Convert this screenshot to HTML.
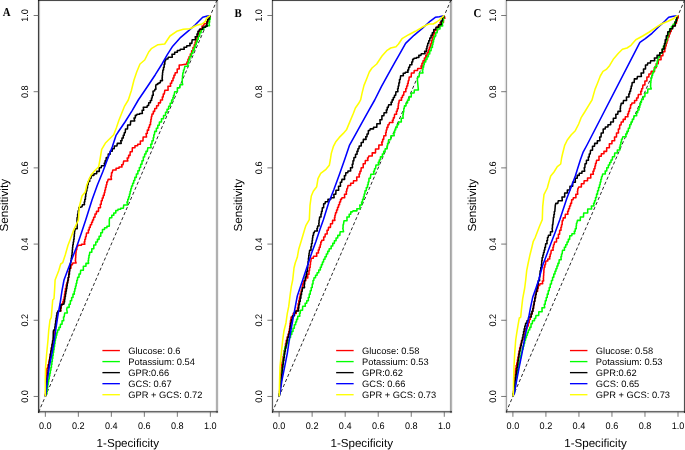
<!DOCTYPE html><html><head><meta charset="utf-8"><style>html,body{margin:0;padding:0;background:#fff;}svg{display:block;}text{font-family:"Liberation Sans",sans-serif;fill:#000;text-rendering:geometricPrecision;}</style></head><body>
<svg width="685" height="450" viewBox="0 0 685 450">
<rect width="685" height="450" fill="#fff"/>
<rect x="38" y="0" width="180" height="1" fill="#4a4a4a" style="mix-blend-mode:multiply"/>
<rect x="38" y="1" width="180" height="1" fill="#f4f4f4" style="mix-blend-mode:multiply"/>
<rect x="38" y="410" width="180" height="1" fill="#f2f2f2" style="mix-blend-mode:multiply"/>
<rect x="38" y="411" width="180" height="1" fill="#686868" style="mix-blend-mode:multiply"/>
<rect x="38" y="412" width="180" height="1" fill="#b0b0b0" style="mix-blend-mode:multiply"/>
<rect x="38" y="413" width="180" height="1" fill="#f4f4f4" style="mix-blend-mode:multiply"/>
<rect x="37" y="0" width="1" height="413" fill="#f0f0f0" style="mix-blend-mode:multiply"/>
<rect x="38" y="0" width="1" height="413" fill="#404040" style="mix-blend-mode:multiply"/>
<rect x="39" y="0" width="1" height="413" fill="#b8b8b8" style="mix-blend-mode:multiply"/>
<rect x="40" y="0" width="1" height="413" fill="#f8f8f8" style="mix-blend-mode:multiply"/>
<rect x="215" y="0" width="1" height="413" fill="#f2f2f2" style="mix-blend-mode:multiply"/>
<rect x="216" y="0" width="1" height="413" fill="#b0b0b0" style="mix-blend-mode:multiply"/>
<rect x="217" y="0" width="1" height="413" fill="#b0b0b0" style="mix-blend-mode:multiply"/>
<rect x="218" y="0" width="1" height="413" fill="#f2f2f2" style="mix-blend-mode:multiply"/>
<line x1="38.75" y1="411.7" x2="216.95" y2="0.26" stroke="#2a2a2a" stroke-width="1" stroke-dasharray="3.2 2.31" stroke-dashoffset="0.6"/>
<polyline points="45.5,396 45.53,393.6 45.67,393.6 45.67,390.4 45.81,390.4 45.81,387.2 45.95,387.2 45.95,384 46.09,384 46.09,380.8 46.23,380.8 46.7,370.7 46.95,368.19 47.95,368.19 47.95,364.84 48.95,364.84 48.83,361.99 49.33,361.99 49.33,359.32 49.83,359.32 49.83,356.64 50.33,356.64 50.33,353.97 50.83,353.97 50.83,351.23 51.37,351.23 51.37,348.46 51.9,348.46 51.9,345.69 52.43,345.69 52.42,343 52.92,343 52.92,340.33 53.42,340.33 53.42,337.67 53.92,337.67 53.92,335 54.38,335 54.38,332.33 54.85,332.33 54.85,329.67 55.32,329.67 55.31,326.75 55.74,326.75 55.74,323.75 56.18,323.75 56.18,320.75 56.61,320.75 56.61,318 57.04,318 57.04,315.33 57.48,315.33 57.48,312.67 57.91,312.67 58.42,310.88 60.92,310.88 60.49,308.25 61.24,308.25 61.24,305.25 61.99,305.25 62.02,303.6 62.93,303.6 62.86,301.57 63.51,301.57 63.51,299.27 64.16,299.27 64.11,296.7 64.54,296.7 64.54,294.03 64.97,294.03 64.97,291.37 65.41,291.37 65.49,288.19 66.24,288.19 66.24,284.84 66.99,284.84 66.99,282.31 67.74,282.31 67.74,280.06 68.49,280.06 68.38,277.3 68.72,277.3 68.72,274.37 69.05,274.37 69.05,271.43 69.38,271.43 69.64,268.19 70.99,268.19 70.99,264.84 72.34,264.84 72.83,263.02 76.12,263.02 75.34,260.69 75.52,260.69 75.52,258.02 75.69,258.02 75.69,255.34 75.87,255.34 75.87,252.67 76.04,252.67 76.16,249.75 76.81,249.75 76.81,246.75 77.46,246.75 78.14,245.25 81.49,245.25 81.49,244.25 84.84,244.25 84.17,242 84.83,242 84.83,239.33 85.5,239.33 85.5,236.67 86.17,236.67 86.5,233 88.5,233 88.25,230.01 89.25,230.01 89.25,227.36 90.25,227.36 90.33,224.68 91.62,224.68 91.55,222.31 92.55,222.31 92.55,220.06 93.55,220.06 93.64,217.18 94.99,217.18 94.99,214.08 96.34,214.08 96.5,211.35 98.5,211.35 98.5,207.7 100.5,207.7 100.25,204.19 101.25,204.19 101.25,200.84 102.25,200.84 102.25,198.01 103.25,198.01 103.25,195.36 104.25,195.36 104.17,192.7 104.83,192.7 104.83,190.03 105.5,190.03 105.5,187.37 106.17,187.37 106.16,184.68 106.81,184.68 106.81,181.98 107.46,181.98 108.15,179.35 111.55,179.35 110.86,176.19 111.51,176.19 111.51,172.84 112.16,172.84 112.83,169.98 116.12,169.98 116.05,168.32 119.05,168.32 119.05,167.02 122.05,167.02 121.65,164.68 123.05,164.68 123.72,161 127.82,161 127.16,158.01 128.61,158.01 128.61,155.36 130.06,155.36 130.2,151.7 132.2,151.7 132.35,147.7 134.95,147.7 134.98,145.69 137.68,145.69 137.68,144.34 140.38,144.34 140.35,141 142.95,141 143.15,137 146.55,137 146.02,133.49 147.32,133.49 147.32,130.14 148.62,130.14 148.55,127.31 149.55,127.31 149.55,124.66 150.55,124.66 150.42,122 150.88,122 150.88,119.33 151.35,119.33 151.35,116.67 151.82,116.67 152.02,114.01 153.32,114.01 153.32,111.36 154.62,111.36 154.76,108.56 156.61,108.56 156.61,105.71 158.46,105.71 158.5,102.86 160.5,102.86 160.5,100.01 162.5,100.01 162.25,97.05 163.25,97.05 163.25,94.05 164.25,94.05 164.82,90.3 168.12,90.3 167.98,86.3 170.68,86.3 170.34,83.31 171.69,83.31 171.69,80.66 173.04,80.66 172.95,78.01 173.95,78.01 173.95,75.36 174.95,75.36 175.2,72.67 177.2,72.67 177.2,69 179.2,69 179.2,65 181.2,65 186.7,64 186.95,62.01 187.95,62.01 187.95,59.36 188.95,59.36 189.02,56.67 190.32,56.67 190.32,53.97 191.62,53.97 191.64,50.83 192.99,50.83 192.99,47.53 194.34,47.53 194.22,44.7 195.12,44.7 195.12,42.03 196.02,42.03 196.02,39.37 196.92,39.37 196.97,36.7 198.07,36.7 198.07,34.03 199.18,34.03 199.18,31.37 200.28,31.37 200.41,28.68 202.06,28.68 202.06,25.98 203.71,25.98 203.98,23.8 206.68,23.8 206.68,21.8 209.38,21.8 209.02,18.3 210.32,18.3 210,15.7" fill="none" stroke="#ff0000" stroke-width="1.55" stroke-linejoin="round" stroke-linecap="round"/>
<polyline points="45.5,396 45.8,393.98 47,393.98 46.81,390.97 47.24,390.97 47.24,387.88 47.68,387.88 47.68,384.77 48.11,384.77 48.14,381.84 48.69,381.84 48.69,378.95 49.24,378.95 49.24,376.07 49.79,376.07 49.79,373.19 50.34,373.19 50.34,370.3 50.89,370.3 50.89,367.42 51.44,367.42 51.41,364.48 51.86,364.48 51.86,361.51 52.3,361.51 52.3,358.54 52.74,358.54 52.74,355.57 53.19,355.57 53.19,352.61 53.63,352.61 53.63,349.64 54.08,349.64 54.08,346.68 54.52,346.68 54.52,343.71 54.97,343.71 54.97,340.74 55.41,340.74 55.47,338 56.13,338 56.13,335.33 56.8,335.33 56.8,332.67 57.47,332.67 57.64,330.01 58.99,330.01 58.99,327.36 60.34,327.36 60.41,324.19 62.06,324.19 62.06,320.84 63.71,320.84 63.47,317 64.17,317 64.67,313 67.38,313 66.7,309.3 67.2,307.35 69.2,307.35 69.03,304.19 70.33,304.19 70.33,300.84 71.62,300.84 71.64,297.49 72.99,297.49 72.99,294.14 74.34,294.14 74.17,291.3 74.83,291.3 74.83,288.63 75.5,288.63 75.5,285.97 76.17,285.97 76.16,283.16 76.81,283.16 76.81,280.31 77.46,280.31 77.64,277.24 78.99,277.24 78.99,274.09 80.34,274.09 80.67,270.3 83.38,270.3 83.35,266.3 85.95,266.3 85.97,263.35 88.67,263.35 88.11,260.7 88.54,260.7 88.54,258.03 88.97,258.03 88.97,255.37 89.41,255.37 89.8,252.19 91.8,252.19 91.8,248.84 93.8,248.84 93.8,245 95.8,245 95.72,242.01 97.42,242.01 97.42,239.36 99.12,239.36 99.11,236.19 100.76,236.19 100.76,232.84 102.41,232.84 102.5,229.52 104.5,229.52 104.59,227.69 106.94,227.69 106.94,226.34 109.29,226.34 109.3,219.6 109.8,217.76 111.8,217.76 111.8,215.31 113.8,215.31 113.8,212.94 115.8,212.94 115.8,210.59 117.8,210.59 117.97,209.25 120.67,209.25 120.67,208.25 123.38,208.25 123.7,205 127.7,205 126.92,202 127.78,202 127.78,199.33 128.65,199.33 128.65,196.67 129.52,196.67 129.47,194 130.13,194 130.13,191.33 130.8,191.33 130.8,188.67 131.47,188.67 131.57,185.95 132.63,185.95 132.63,183.22 133.7,183.22 133.7,180.48 134.77,180.48 134.88,177.35 136.38,177.35 136.38,174.08 137.88,174.08 137.88,170.82 139.38,170.82 139.33,167.5 140.67,167.5 140.67,164.17 142,164.17 142,160.83 143.33,160.83 143.32,157 144.62,157 144.64,154.01 145.99,154.01 145.99,151.36 147.34,151.36 147.82,147.7 151.12,147.7 150.64,144.19 151.99,144.19 151.99,140.84 153.34,140.84 153.16,137.75 153.81,137.75 153.81,134.75 154.46,134.75 154.73,131.38 156.43,131.38 156.36,128.25 157.81,128.25 157.81,125.25 159.26,125.25 159.42,122.03 161.48,122.03 161.48,118.72 163.55,118.72 163.55,115.42 165.62,115.42 165.49,112.32 167.06,112.32 167.06,109.29 168.63,109.29 168.63,106.26 170.19,106.26 170.16,103.18 171.61,103.18 171.61,100.08 173.06,100.08 172.86,97.58 173.51,97.58 173.51,95.28 174.16,95.28 174.68,91.7 177.38,91.7 177.35,87.7 179.95,87.7 179.98,84.67 182.68,84.67 182.06,81.68 182.29,81.68 182.29,78.58 182.53,78.58 182.53,75.48 182.76,75.48 182.86,72.67 183.51,72.67 183.51,69.97 184.16,69.97 184.82,66.3 188.12,66.3 187.58,62.94 188.68,62.94 188.68,59.79 189.78,59.79 189.88,56.58 191.38,56.58 191.38,53.34 192.88,53.34 192.88,50.11 194.38,50.11 194.25,47.31 195.25,47.31 195.25,44.66 196.25,44.66 196.25,42.01 197.25,42.01 197.25,39.36 198.25,39.36 198.34,36.19 199.69,36.19 199.69,32.84 201.04,32.84 201.35,29.52 203.95,29.52 203.8,27.2 205.8,27.2 206.15,25.65 209.55,25.65 208.86,22.82 209.51,22.82 209.51,19.52 210.16,19.52 210,15.7" fill="none" stroke="#00ff00" stroke-width="1.55" stroke-linejoin="round" stroke-linecap="round"/>
<polyline points="45.5,396 45.58,393.66 45.88,393.66 45.88,390.55 46.18,390.55 46.18,387.43 46.48,387.43 46.48,384.31 46.77,384.31 46.77,381.2 47.08,381.2 47.08,378.08 47.38,378.08 47.39,375.31 47.74,375.31 47.74,372.66 48.09,372.66 48.09,370.01 48.44,370.01 48.44,367.36 48.79,367.36 48.83,364.19 49.33,364.19 49.33,360.84 49.83,360.84 49.83,357.49 50.33,357.49 50.33,354.14 50.83,354.14 50.84,350.81 51.42,350.81 51.42,347.48 51.99,347.48 51.99,344.16 52.57,344.16 52.57,340.83 53.14,340.83 53.3,332 53.65,329.98 55.05,329.98 54.81,326.97 55.24,326.97 55.24,323.88 55.68,323.88 55.68,320.77 56.11,320.77 56.11,318 56.54,318 56.54,315.33 56.98,315.33 56.98,312.67 57.41,312.67 57.97,311.02 60.67,311.02 60.16,308.19 60.81,308.19 60.81,304.84 61.46,304.84 64,304 64.11,302 64.54,302 64.54,299.33 64.97,299.33 64.97,296.67 65.41,296.67 65.42,294 65.88,294 65.88,291.33 66.35,291.33 66.35,288.67 66.82,288.67 66.81,286 67.24,286 67.24,283.33 67.67,283.33 67.67,280.67 68.11,280.67 68.16,277.49 68.81,277.49 68.81,274.14 69.46,274.14 69.39,271.31 69.74,271.31 69.74,268.66 70.09,268.66 70.09,266.01 70.44,266.01 70.44,263.36 70.79,263.36 70.81,260.7 71.24,260.7 71.24,258.03 71.67,258.03 71.67,255.37 72.11,255.37 72.06,252.7 72.29,252.7 72.29,250.03 72.53,250.03 72.53,247.37 72.76,247.37 72.81,244.7 73.24,244.7 73.24,242.03 73.67,242.03 73.67,239.37 74.11,239.37 74.06,236.7 74.29,236.7 74.29,234.03 74.53,234.03 74.53,231.37 74.76,231.37 75.2,228.68 77.2,228.68 77,220 77.12,217.49 77.62,217.49 77.62,214.14 78.12,214.14 78.16,210.82 78.81,210.82 78.81,207.52 79.46,207.52 82,206.7 82.5,204.68 84.5,204.68 84.16,202.01 84.81,202.01 84.81,199.36 85.46,199.36 85.39,196.68 85.74,196.68 85.74,193.98 86.09,193.98 86.17,190.98 86.83,190.98 86.83,187.88 87.5,187.88 87.5,184.78 88.17,184.78 88.34,181.49 89.69,181.49 89.69,178.14 91.04,178.14 91.35,175.35 93.95,175.35 93.97,173.65 96.67,173.65 96.67,171.35 99.38,171.35 99.2,167.7 101.2,167.7 101.53,165.65 104.83,165.65 104.22,163.31 105.12,163.31 105.12,160.66 106.02,160.66 106.29,157.49 108.24,157.49 108.24,154.14 110.19,154.14 110.2,151.31 112.2,151.31 112.2,148.66 114.2,148.66 114.35,145.98 116.95,145.98 117.3,143.35 121.3,143.35 120.64,140.68 121.99,140.68 121.99,137.98 123.34,137.98 123.25,135.31 124.25,135.31 124.25,132.66 125.25,132.66 125.5,129 127.5,129 127.67,125 130.38,125 130.7,121 134.7,121 134.02,118.01 135.32,118.01 135.32,115.36 136.62,115.36 136.98,114.17 139.68,114.17 139.68,113.47 142.38,113.47 142.1,110.3 143.7,110.3 143.3,107.3 147,107.3 147.32,105.58 148.62,105.58 148.73,102.75 150.43,102.75 150.32,100.5 151.62,100.5 151.48,97.97 152.18,97.97 152.25,95.35 153.25,95.35 153,91.3 154.7,90.7 154.95,89.2 155.95,89.2 155.7,86.3 156.1,84.58 157.7,84.58 157.65,83.47 159.05,83.47 159.02,82.7 160.32,82.7 160.5,80.62 162.5,80.62 162.06,78 162.29,78 162.29,75.33 162.53,75.33 162.53,72.67 162.76,72.67 162.86,70.01 163.51,70.01 163.51,67.36 164.16,67.36 164.16,64.19 164.81,64.19 164.81,60.84 165.46,60.84 165.8,59.03 167.8,59.03 168.3,57.2 172.3,57.2 171.98,54.15 174.68,54.15 174.68,52.33 177.38,52.33 177.35,50.5 179.95,50.5 180.3,49.25 184.3,49.25 183.98,47.28 186.68,47.28 186.82,45.65 190.12,45.65 189.8,43.35 191.8,43.35 192.15,39.7 195.55,39.7 195.2,36.67 197.2,36.67 196.95,34.01 197.95,34.01 197.95,31.36 198.95,31.36 199.52,29.2 202.82,29.2 202.68,27.2 205.38,27.2 205.2,26.18 207.2,26.18 206.77,24.24 207.07,24.24 207.07,21.89 207.38,21.89 207.65,19.35 209.05,19.35 209.02,16.45 210.32,16.45" fill="none" stroke="#000000" stroke-width="1.55" stroke-linejoin="round" stroke-linecap="round"/>
<polyline points="45.5,396 46,393.3 47.3,380 49.3,366.7 52,353.3 54.4,340 56,328 58,314.7 60,304 62,290.7 64,280 68,269.3 72,258.7 76.7,246.7 81.3,233.3 85.7,220 92,200 97.3,185.3 102.7,172 107.2,160 112.3,146.7 116,135.4 118,132.3 125,122 132.3,110.3 138.3,100 147.3,86.7 155.3,74.7 162,64 167.3,54.7 172.7,46.2 178.3,40 180.7,37.3 188.7,30.7 195.3,24.7 202.7,17.3 207.3,16 210,15.7" fill="none" stroke="#0000ff" stroke-width="1.55" stroke-linejoin="round" stroke-linecap="round"/>
<polyline points="45.5,396 45.3,393.3 45.3,380 45.6,366.7 46.7,353.3 48,340 48.7,330.7 50,320 51.3,317.3 52.7,300 54,298.7 54.7,288 55.1,280 58.7,270.7 60.7,264 62.7,262.7 65.3,254.7 68,245.3 72,234.7 74,229.3 78.4,220 79.3,206.7 80.7,201.3 82,196 85.3,192 86.7,185.3 88.7,180 91.3,174.7 94.7,170.7 98.7,166.7 99.9,160 101.7,149.3 105.7,142.7 109.7,138.7 113.7,134.7 116.3,128 119,120 121.7,113.3 124.3,106.7 128.3,100 130,94.7 131.3,90.7 134,80 136.7,72 140,64 144.7,60 148.7,52 151.3,48.7 158,44.7 164.7,44 167.3,40 170,36 176.7,31.3 183.3,29.3 190,28.7 196.7,25.3 202,24 205.3,21.3 206.7,18 210,15.7" fill="none" stroke="#ffff00" stroke-width="1.55" stroke-linejoin="round" stroke-linecap="round"/>
<line x1="33.65" y1="396.46" x2="38.75" y2="396.46" stroke="#555" stroke-width="0.8"/>
<text x="0" y="0" font-size="9.5" text-anchor="middle" transform="translate(28.15 396.46) rotate(-90) scale(0.96 1)">0.0</text>
<line x1="33.65" y1="320.27" x2="38.75" y2="320.27" stroke="#555" stroke-width="0.8"/>
<text x="0" y="0" font-size="9.5" text-anchor="middle" transform="translate(28.15 320.27) rotate(-90) scale(0.96 1)">0.2</text>
<line x1="33.65" y1="244.08" x2="38.75" y2="244.08" stroke="#555" stroke-width="0.8"/>
<text x="0" y="0" font-size="9.5" text-anchor="middle" transform="translate(28.15 244.08) rotate(-90) scale(0.96 1)">0.4</text>
<line x1="33.65" y1="167.88" x2="38.75" y2="167.88" stroke="#555" stroke-width="0.8"/>
<text x="0" y="0" font-size="9.5" text-anchor="middle" transform="translate(28.15 167.88) rotate(-90) scale(0.96 1)">0.6</text>
<line x1="33.65" y1="91.69" x2="38.75" y2="91.69" stroke="#555" stroke-width="0.8"/>
<text x="0" y="0" font-size="9.5" text-anchor="middle" transform="translate(28.15 91.69) rotate(-90) scale(0.96 1)">0.8</text>
<line x1="33.65" y1="15.5" x2="38.75" y2="15.5" stroke="#555" stroke-width="0.8"/>
<text x="0" y="0" font-size="9.5" text-anchor="middle" transform="translate(28.15 15.5) rotate(-90) scale(0.96 1)">1.0</text>
<line x1="45.35" y1="411.7" x2="45.35" y2="416.8" stroke="#555" stroke-width="0.8"/>
<text x="0" y="0" font-size="9.5" text-anchor="middle" transform="translate(45.35 429.1) scale(0.96 1)">0.0</text>
<line x1="78.35" y1="411.7" x2="78.35" y2="416.8" stroke="#555" stroke-width="0.8"/>
<text x="0" y="0" font-size="9.5" text-anchor="middle" transform="translate(78.35 429.1) scale(0.96 1)">0.2</text>
<line x1="111.35" y1="411.7" x2="111.35" y2="416.8" stroke="#555" stroke-width="0.8"/>
<text x="0" y="0" font-size="9.5" text-anchor="middle" transform="translate(111.35 429.1) scale(0.96 1)">0.4</text>
<line x1="144.35" y1="411.7" x2="144.35" y2="416.8" stroke="#555" stroke-width="0.8"/>
<text x="0" y="0" font-size="9.5" text-anchor="middle" transform="translate(144.35 429.1) scale(0.96 1)">0.6</text>
<line x1="177.35" y1="411.7" x2="177.35" y2="416.8" stroke="#555" stroke-width="0.8"/>
<text x="0" y="0" font-size="9.5" text-anchor="middle" transform="translate(177.35 429.1) scale(0.96 1)">0.8</text>
<line x1="210.35" y1="411.7" x2="210.35" y2="416.8" stroke="#555" stroke-width="0.8"/>
<text x="0" y="0" font-size="9.5" text-anchor="middle" transform="translate(210.35 429.1) scale(0.96 1)">1.0</text>
<text x="127.85" y="447" font-size="11.6" text-anchor="middle">1-Specificity</text>
<text x="8.25" y="205.3" font-size="11.7" text-anchor="middle" transform="rotate(-90 8.25 205.3)">Sensitivity</text>
<line x1="102.4" y1="350.55" x2="119.9" y2="350.55" stroke="#ff0000" stroke-width="1.35"/>
<text x="128.3" y="353.85" font-size="9.3">Glucose: 0.6</text>
<line x1="102.4" y1="361.59" x2="119.9" y2="361.59" stroke="#00ff00" stroke-width="1.35"/>
<text x="128.3" y="364.89" font-size="9.3">Potassium: 0.54</text>
<line x1="102.4" y1="372.63" x2="119.9" y2="372.63" stroke="#000000" stroke-width="1.35"/>
<text x="128.3" y="375.93" font-size="9.3">GPR:0.66</text>
<line x1="102.4" y1="383.67" x2="119.9" y2="383.67" stroke="#0000ff" stroke-width="1.35"/>
<text x="128.3" y="386.97" font-size="9.3">GCS: 0.67</text>
<line x1="102.4" y1="394.71" x2="119.9" y2="394.71" stroke="#ffff00" stroke-width="1.35"/>
<text x="128.3" y="398.01" font-size="9.3">GPR + GCS: 0.72</text>
<text x="0" y="0" font-size="12" font-weight="bold" transform="translate(2.7 15.7) scale(0.9 1)" style="font-family:'Liberation Serif',serif">A</text>
<rect x="272" y="0" width="180" height="1" fill="#4a4a4a" style="mix-blend-mode:multiply"/>
<rect x="272" y="1" width="180" height="1" fill="#f4f4f4" style="mix-blend-mode:multiply"/>
<rect x="272" y="410" width="180" height="1" fill="#f2f2f2" style="mix-blend-mode:multiply"/>
<rect x="272" y="411" width="180" height="1" fill="#686868" style="mix-blend-mode:multiply"/>
<rect x="272" y="412" width="180" height="1" fill="#b0b0b0" style="mix-blend-mode:multiply"/>
<rect x="272" y="413" width="180" height="1" fill="#f4f4f4" style="mix-blend-mode:multiply"/>
<rect x="271" y="0" width="1" height="413" fill="#e4e4e4" style="mix-blend-mode:multiply"/>
<rect x="272" y="0" width="1" height="413" fill="#606060" style="mix-blend-mode:multiply"/>
<rect x="273" y="0" width="1" height="413" fill="#f0f0f0" style="mix-blend-mode:multiply"/>
<rect x="449" y="0" width="1" height="413" fill="#f4f4f4" style="mix-blend-mode:multiply"/>
<rect x="450" y="0" width="1" height="413" fill="#a4a4a4" style="mix-blend-mode:multiply"/>
<rect x="451" y="0" width="1" height="413" fill="#b4b4b4" style="mix-blend-mode:multiply"/>
<rect x="452" y="0" width="1" height="413" fill="#f0f0f0" style="mix-blend-mode:multiply"/>
<line x1="272.5" y1="411.7" x2="450.9" y2="0.26" stroke="#2a2a2a" stroke-width="1" stroke-dasharray="3.2 2.31" stroke-dashoffset="0.6"/>
<polyline points="279.3,396 279.35,393.72 279.55,393.72 279.55,390.68 279.75,390.68 279.75,387.63 279.95,387.63 279.95,384.59 280.15,384.59 280.15,381.55 280.35,381.55 280.35,378.5 280.55,378.5 280.55,375.46 280.75,375.46 280.78,372.69 281.11,372.69 281.11,370.02 281.43,370.02 281.43,367.34 281.76,367.34 281.76,364.67 282.08,364.67 282.12,361.94 282.62,361.94 282.62,359.19 283.12,359.19 283.12,356.44 283.62,356.44 283.62,353.69 284.12,353.69 284.17,350.5 284.83,350.5 284.83,347.17 285.5,347.17 285.5,343.83 286.17,343.83 286.25,340.38 287.25,340.38 287.25,336.88 288.25,336.88 288.16,334.01 288.81,334.01 288.81,331.36 289.46,331.36 289.39,328.69 289.74,328.69 289.74,326.02 290.09,326.02 290.09,323.34 290.44,323.34 290.44,320.67 290.79,320.67 291.15,317 292.95,317 293.25,313.38 296.25,313.38 295.95,310.62 297.75,310.62 297.48,307.26 298.18,307.26 298.18,303.61 298.88,303.61 298.86,300.19 299.51,300.19 299.51,296.84 300.16,296.84 300.25,293.49 301.25,293.49 301.25,290.14 302.25,290.14 302.16,286.82 302.81,286.82 302.81,283.52 303.46,283.52 303.8,280.68 305.8,280.68 305.8,277.98 307.8,277.98 307.65,274.3 309.05,274.3 308.86,270.82 309.51,270.82 309.51,267.52 310.16,267.52 310.09,264.68 310.44,264.68 310.44,261.98 310.79,261.98 311.2,258.3 313.2,258.3 313.52,256.32 316.82,256.32 316.5,253 318.5,253 318.25,250.01 319.25,250.01 319.25,247.36 320.25,247.36 320.16,244.68 320.81,244.68 320.81,241.98 321.46,241.98 321.8,240.32 323.8,240.32 323.65,237 325.05,237 325.2,233.98 327.2,233.98 327.02,230.3 328.32,230.3 328.5,227.35 330.5,227.35 330.5,223.7 332.5,223.7 332.57,220.38 334.88,220.38 334.43,217.76 334.93,217.76 334.93,215.31 335.43,215.31 335.55,212.68 336.55,212.68 336.55,209.98 337.55,209.98 337.55,207.31 338.55,207.31 338.55,204.66 339.55,204.66 339.55,202.01 340.55,202.01 340.55,199.36 341.55,199.36 341.98,197.65 344.68,197.65 344.5,194.3 346.5,194.3 346.16,191.31 346.81,191.31 346.81,188.66 347.46,188.66 347.98,185.52 350.68,185.52 350.68,183.2 353.38,183.2 353.52,180.68 356.82,180.68 356.68,177 359.38,177 358.95,174.01 359.95,174.01 359.95,171.36 360.95,171.36 361.2,167.7 363.2,167.7 363.2,163.7 365.2,163.7 365.35,160.45 367.95,160.45 367.48,157.97 368.18,157.97 368.85,155.9 372.25,155.9 372.22,152.85 375.52,152.85 375.52,149 378.82,149 378.85,145 382.25,145 381.65,142.01 382.65,142.01 382.65,139.36 383.65,139.36 383.9,135.7 385.9,135.7 385.56,132.71 386.21,132.71 386.21,130.06 386.86,130.06 386.95,127.38 387.95,127.38 387.95,124.67 388.95,124.67 389.55,122.5 392.95,122.5 392.35,120.24 393.35,120.24 393.35,117.89 394.35,117.89 394.6,114.3 396.6,114.3 396.34,111.31 397.29,111.31 397.29,108.66 398.24,108.66 398.09,106.01 398.44,106.01 398.44,103.36 398.79,103.36 399.27,100.15 401.57,100.15 401.3,97.58 402.5,97.58 402.5,95.28 403.7,95.28 403.9,91.7 405.9,91.7 405.65,88.71 406.65,88.71 406.65,86.06 407.65,86.06 407.56,83.38 408.21,83.38 408.21,80.67 408.86,80.67 409.2,77 411.2,77 411.38,73 414.07,73 414.22,70.5 417.52,70.5 417.7,68.5 421.7,68.5 420.95,66.01 421.95,66.01 421.95,63.36 422.95,63.36 423.04,60.67 424.39,60.67 424.39,57.97 425.74,57.97 425.74,55.31 427.09,55.31 427.09,52.66 428.44,52.66 428.35,50.01 429.35,50.01 429.35,47.36 430.35,47.36 430.38,43.96 431.48,43.96 431.48,40.31 432.57,40.31 432.51,37.11 433.36,37.11 433.36,34.06 434.21,34.06 434.68,30.3 437.38,30.3 437.35,26.3 439.95,26.3 440.15,22.3 443.55,22.3 443.15,18.3 444.95,18.3 444,15.7" fill="none" stroke="#ff0000" stroke-width="1.55" stroke-linejoin="round" stroke-linecap="round"/>
<polyline points="279.3,396 279.38,393.94 279.68,393.94 279.68,391.19 279.97,391.19 279.97,388.44 280.27,388.44 280.27,385.69 280.57,385.69 280.59,382.56 280.97,382.56 280.97,379.31 281.34,379.31 281.34,376.06 281.72,376.06 281.72,372.81 282.09,372.81 282.08,369.87 282.42,369.87 282.42,367.03 282.76,367.03 282.76,364.2 283.1,364.2 283.1,361.36 283.43,361.36 283.43,358.52 283.77,358.52 283.77,355.68 284.11,355.68 284.11,352.85 284.45,352.85 284.45,350.01 284.78,350.01 285.06,346.88 286.49,346.88 286.49,343.64 287.93,343.64 287.93,340.41 289.36,340.41 289.31,337.38 290.54,337.38 290.54,334.41 291.77,334.41 291.77,331.44 293.01,331.44 293.02,328.19 294.32,328.19 294.32,324.84 295.62,324.84 295.55,322.01 296.55,322.01 296.55,319.36 297.55,319.36 297.8,316.15 299.8,316.15 299.48,313.35 300.18,313.35 300.5,310.15 302.5,310.15 302.68,306.3 305.38,306.3 305.11,303.31 306.76,303.31 306.76,300.66 308.41,300.66 308.25,297.49 309.25,297.49 309.25,294.14 310.25,294.14 310.25,290.82 311.25,290.82 311.25,287.52 312.25,287.52 312.2,284.04 313,284.04 313,280.49 313.8,280.49 313.99,277.76 315.54,277.76 315.54,275.31 317.09,275.31 317.11,272.68 318.76,272.68 318.76,269.98 320.41,269.98 320.27,267.3 321.38,267.3 321.38,264.63 322.47,264.63 322.47,261.97 323.57,261.97 323.64,259.31 324.99,259.31 324.99,256.66 326.34,256.66 326.34,254.01 327.69,254.01 327.69,251.36 329.04,251.36 329.2,248.68 331.2,248.68 331.11,246.01 332.76,246.01 332.76,243.36 334.41,243.36 334.41,240.68 336.06,240.68 336.06,237.98 337.71,237.98 337.8,235.35 339.8,235.35 340.15,231.7 343.55,231.7 342.77,228.19 343.07,228.19 343.07,224.84 343.38,224.84 344.05,220.7 347.05,220.7 346.9,216.9 349.3,216.9 349.11,214.24 350.76,214.24 350.76,211.89 352.41,211.89 353,210.85 357,210.85 356.82,208.68 360.12,208.68 359.8,205 361.8,205 361.55,202.01 362.55,202.01 362.55,199.36 363.55,199.36 363.48,196.68 364.18,196.68 364.18,193.98 364.88,193.98 365.02,190.82 366.32,190.82 366.32,187.52 367.62,187.52 367.48,184.68 368.18,184.68 368.18,181.98 368.88,181.98 369.02,178.3 370.32,178.3 370.82,174.3 374.12,174.3 373.55,171.31 374.55,171.31 374.55,168.66 375.55,168.66 375.98,165 378.68,165 378.25,162.27 379.25,162.27 379.25,159.97 380.25,159.97 380.5,156.85 382.5,156.85 382.34,154.01 383.69,154.01 383.69,151.36 385.04,151.36 385.2,148.68 387.2,148.68 386.88,146.01 387.57,146.01 387.57,143.36 388.28,143.36 388.6,139.7 390.6,139.7 390.93,135.7 394.22,135.7 393.65,132.71 394.65,132.71 394.65,130.06 395.65,130.06 395.74,127.38 397.09,127.38 397.09,124.67 398.44,124.67 398.75,122.05 401.35,122.05 401.2,118.33 403.2,118.33 402.82,114.98 403.28,114.98 403.28,111.88 403.75,111.88 403.75,108.78 404.22,108.78 404.48,105.85 406.02,105.85 406.02,102.98 407.55,102.98 407.55,100.12 409.08,100.12 409.2,96.85 411.2,96.85 411.38,93 414.07,93 414.4,90.05 418.4,90.05 417.4,80 417.72,77 419.02,77 419.55,73 422.95,73 422.27,70 422.93,70 422.93,67.33 423.6,67.33 423.6,64.67 424.27,64.67 424.43,62.01 425.72,62.01 425.72,59.36 427.02,59.36 427.04,56.67 428.39,56.67 428.39,53.97 429.74,53.97 429.74,50.83 431.09,50.83 431.09,47.53 432.44,47.53 432.26,44.67 432.89,44.67 432.89,41.98 433.52,41.98 433.52,39.27 434.16,39.27 434.34,36.12 435.69,36.12 435.69,32.83 437.04,32.83 437.35,29 439.95,29 439.98,25.98 442.68,25.98 442.16,23.31 442.81,23.31 442.81,20.66 443.46,20.66 443.48,16.77 444.18,16.77" fill="none" stroke="#00ff00" stroke-width="1.55" stroke-linejoin="round" stroke-linecap="round"/>
<polyline points="279.3,396 279.4,393.6 279.8,393.6 279.8,390.4 280.2,390.4 280.2,387.2 280.6,387.2 280.6,384 281,384 281,380.8 281.4,380.8 281.39,377.51 281.74,377.51 281.74,374.18 282.09,374.18 282.09,370.86 282.44,370.86 282.44,367.53 282.79,367.53 282.82,364.19 283.32,364.19 283.32,360.84 283.82,360.84 283.82,357.49 284.32,357.49 284.32,354.14 284.82,354.14 284.83,351.23 285.35,351.23 285.35,348.47 285.87,348.47 285.87,345.71 286.39,345.71 286.39,342.95 286.91,342.95 286.91,340.19 287.43,340.19 287.55,337.17 288.55,337.17 288.55,334.07 289.55,334.07 289.42,331.3 289.88,331.3 289.88,328.63 290.35,328.63 290.35,325.97 290.82,325.97 290.86,322.82 291.51,322.82 291.51,319.52 292.16,319.52 292.5,315.7 294.5,315.7 294.32,312.68 295.62,312.68 295.98,311.02 298.68,311.02 298.16,308.19 298.81,308.19 298.81,304.84 299.46,304.84 299.48,301.49 300.18,301.49 300.18,298.14 300.88,298.14 300.86,294.82 301.51,294.82 301.51,291.52 302.16,291.52 302.5,287.7 304.5,287.7 304.12,284.19 304.62,284.19 304.62,280.84 305.12,280.84 305.25,277 306.25,277 306.16,274.01 306.81,274.01 306.81,271.36 307.46,271.36 307.39,268.19 307.74,268.19 307.74,264.84 308.09,264.84 308.09,261.49 308.44,261.49 308.44,258.14 308.79,258.14 308.77,255.57 309.07,255.57 309.07,253.27 309.38,253.27 309.65,250.15 311.05,250.15 310.86,246.82 311.51,246.82 311.51,243.52 312.16,243.52 312.09,240.68 312.44,240.68 312.44,237.98 312.79,237.98 312.86,235.31 313.51,235.31 313.51,232.66 314.16,232.66 314.68,231.02 317.38,231.02 316.85,228.68 317.45,228.68 317.65,225.98 319.05,225.98 318.77,223.16 319.07,223.16 319.07,220.31 319.38,220.31 319.65,216.9 321.05,216.9 320.86,214.01 321.51,214.01 321.51,211.36 322.16,211.36 322.32,207.7 323.62,207.7 323.65,203.7 325.05,203.7 325.35,201.65 327.95,201.65 327.98,199.35 330.68,199.35 330.82,197.65 334.12,197.65 333.8,194.3 335.8,194.3 335.98,190.3 338.68,190.3 338.5,186.3 340.5,186.3 340.32,182.3 341.62,182.3 341.98,179.35 344.68,179.35 344.32,175.7 345.62,175.7 345.8,172.68 347.8,172.68 347.98,171.02 350.68,171.02 350.5,167.7 352.5,167.7 352.2,164.19 353,164.19 353,160.84 353.8,160.84 353.99,157.52 355.54,157.52 355.54,154.22 357.09,154.22 356.95,151.38 357.95,151.38 357.95,148.68 358.95,148.68 359.2,146.05 361.2,146.05 361.2,142.4 363.2,142.4 363.38,139.38 366.07,139.38 365.72,136.71 367.02,136.71 367.02,134.06 368.32,134.06 368.35,130.4 369.75,130.4 370.22,128.88 373.52,128.88 373.52,127.2 376.82,127.2 376.85,123.7 380.25,123.7 379.9,119.7 381.9,119.7 381.9,115.7 383.9,115.7 384.05,112.67 386.65,112.67 386.25,110.01 387.25,110.01 387.25,107.36 388.25,107.36 388.68,104.67 391.38,104.67 390.99,102.24 392.14,102.24 392.14,99.89 393.29,99.89 393.3,97.58 394.5,97.58 394.5,95.28 395.7,95.28 395.9,91.7 397.9,91.7 397.56,88.71 398.21,88.71 398.21,86.06 398.86,86.06 398.86,82.89 399.51,82.89 399.51,79.54 400.16,79.54 400.68,75.7 403.38,75.7 403.2,73.2 405.2,73.2 405.38,72.17 408.07,72.17 407.65,70.01 408.65,70.01 408.65,67.36 409.65,67.36 409.9,64.67 411.9,64.67 411.65,62.01 412.65,62.01 412.65,59.36 413.65,59.36 414.01,58.17 416.46,58.17 416.46,57.47 418.91,57.47 418.82,55.35 420.92,55.35 421.32,53.65 425.03,53.65 424.6,51.35 426.6,51.35 426.28,48.67 426.98,48.67 426.98,45.97 427.68,45.97 427.75,43.31 428.75,43.31 428.75,40.66 429.75,40.66 429.81,38.01 431.06,38.01 431.06,35.36 432.31,35.36 432.32,32.67 433.62,32.67 433.8,29.52 435.8,29.52 435.98,27.2 438.68,27.2 438.68,24.68 441.38,24.68 441.02,21 442.32,21 442.5,16.77 444.5,16.77" fill="none" stroke="#000000" stroke-width="1.55" stroke-linejoin="round" stroke-linecap="round"/>
<polyline points="279.3,396 280,393.3 282,380 284.7,366.7 287.3,353.3 289.3,340 291.3,328 293.3,317.3 295.3,306.7 297.3,296 300,288 302.7,280 308,264 312,252 316,241.3 320,229.3 323.3,220 328.7,202.7 334,189.3 339.3,174.7 344.5,160 349.4,145.4 355.4,134.7 362,122.7 368.7,110.7 374.7,100 381.4,86.7 388,74.7 394.7,62.7 400,53.3 405.6,43.4 414,35.3 422,28.7 430,21.3 435.3,17.3 439.3,16.7 444,15.7" fill="none" stroke="#0000ff" stroke-width="1.55" stroke-linejoin="round" stroke-linecap="round"/>
<polyline points="279.3,396 279.3,393.3 279.6,380 280,366.7 281.3,353.3 282.7,340 284,330.7 286,322.7 287.3,313.3 288.7,306.7 290,296 291.3,286.7 292.7,280 294,268 295.3,262.7 297.3,257.3 298.7,249.3 300.7,242.7 302.7,236 304.7,229.3 306,225.3 309.3,219.6 310,205.3 311.3,196 313.3,191.3 316.7,186.7 318,178.7 320.7,173.3 326,169.3 329.3,165.3 330.3,160 331.3,153.4 333.3,146.7 336,141.4 339.3,137.4 343.3,133.4 346.7,129.4 350,121.4 353.4,113.3 355.4,108 358.7,103.3 360.7,99.7 362,93.4 364,85.4 366.7,78.7 369.3,72 372,68 376.7,64 382,56 386.7,50.7 390.7,48 396,46.7 398.5,44 402,38.7 408.7,34.7 415.3,31.3 422,27.3 428.7,24 433.3,24 436.7,22 439.3,20 442,17.3 444,15.7" fill="none" stroke="#ffff00" stroke-width="1.55" stroke-linejoin="round" stroke-linecap="round"/>
<line x1="267.4" y1="396.46" x2="272.5" y2="396.46" stroke="#555" stroke-width="0.8"/>
<text x="0" y="0" font-size="9.5" text-anchor="middle" transform="translate(261.9 396.46) rotate(-90) scale(0.96 1)">0.0</text>
<line x1="267.4" y1="320.27" x2="272.5" y2="320.27" stroke="#555" stroke-width="0.8"/>
<text x="0" y="0" font-size="9.5" text-anchor="middle" transform="translate(261.9 320.27) rotate(-90) scale(0.96 1)">0.2</text>
<line x1="267.4" y1="244.08" x2="272.5" y2="244.08" stroke="#555" stroke-width="0.8"/>
<text x="0" y="0" font-size="9.5" text-anchor="middle" transform="translate(261.9 244.08) rotate(-90) scale(0.96 1)">0.4</text>
<line x1="267.4" y1="167.88" x2="272.5" y2="167.88" stroke="#555" stroke-width="0.8"/>
<text x="0" y="0" font-size="9.5" text-anchor="middle" transform="translate(261.9 167.88) rotate(-90) scale(0.96 1)">0.6</text>
<line x1="267.4" y1="91.69" x2="272.5" y2="91.69" stroke="#555" stroke-width="0.8"/>
<text x="0" y="0" font-size="9.5" text-anchor="middle" transform="translate(261.9 91.69) rotate(-90) scale(0.96 1)">0.8</text>
<line x1="267.4" y1="15.5" x2="272.5" y2="15.5" stroke="#555" stroke-width="0.8"/>
<text x="0" y="0" font-size="9.5" text-anchor="middle" transform="translate(261.9 15.5) rotate(-90) scale(0.96 1)">1.0</text>
<line x1="279.11" y1="411.7" x2="279.11" y2="416.8" stroke="#555" stroke-width="0.8"/>
<text x="0" y="0" font-size="9.5" text-anchor="middle" transform="translate(279.11 429.1) scale(0.96 1)">0.0</text>
<line x1="312.14" y1="411.7" x2="312.14" y2="416.8" stroke="#555" stroke-width="0.8"/>
<text x="0" y="0" font-size="9.5" text-anchor="middle" transform="translate(312.14 429.1) scale(0.96 1)">0.2</text>
<line x1="345.18" y1="411.7" x2="345.18" y2="416.8" stroke="#555" stroke-width="0.8"/>
<text x="0" y="0" font-size="9.5" text-anchor="middle" transform="translate(345.18 429.1) scale(0.96 1)">0.4</text>
<line x1="378.22" y1="411.7" x2="378.22" y2="416.8" stroke="#555" stroke-width="0.8"/>
<text x="0" y="0" font-size="9.5" text-anchor="middle" transform="translate(378.22 429.1) scale(0.96 1)">0.6</text>
<line x1="411.26" y1="411.7" x2="411.26" y2="416.8" stroke="#555" stroke-width="0.8"/>
<text x="0" y="0" font-size="9.5" text-anchor="middle" transform="translate(411.26 429.1) scale(0.96 1)">0.8</text>
<line x1="444.29" y1="411.7" x2="444.29" y2="416.8" stroke="#555" stroke-width="0.8"/>
<text x="0" y="0" font-size="9.5" text-anchor="middle" transform="translate(444.29 429.1) scale(0.96 1)">1.0</text>
<text x="361.7" y="447" font-size="11.6" text-anchor="middle">1-Specificity</text>
<text x="242" y="205.3" font-size="11.7" text-anchor="middle" transform="rotate(-90 242 205.3)">Sensitivity</text>
<line x1="336.15" y1="350.55" x2="353.65" y2="350.55" stroke="#ff0000" stroke-width="1.35"/>
<text x="362.05" y="353.85" font-size="9.3">Glucose: 0.58</text>
<line x1="336.15" y1="361.59" x2="353.65" y2="361.59" stroke="#00ff00" stroke-width="1.35"/>
<text x="362.05" y="364.89" font-size="9.3">Potassium: 0.53</text>
<line x1="336.15" y1="372.63" x2="353.65" y2="372.63" stroke="#000000" stroke-width="1.35"/>
<text x="362.05" y="375.93" font-size="9.3">GPR:0.62</text>
<line x1="336.15" y1="383.67" x2="353.65" y2="383.67" stroke="#0000ff" stroke-width="1.35"/>
<text x="362.05" y="386.97" font-size="9.3">GCS: 0.66</text>
<line x1="336.15" y1="394.71" x2="353.65" y2="394.71" stroke="#ffff00" stroke-width="1.35"/>
<text x="362.05" y="398.01" font-size="9.3">GPR + GCS: 0.73</text>
<text x="0" y="0" font-size="12" font-weight="bold" transform="translate(234.4 16.8) scale(0.9 1)" style="font-family:'Liberation Serif',serif">B</text>
<rect x="506" y="0" width="179" height="1" fill="#4a4a4a" style="mix-blend-mode:multiply"/>
<rect x="506" y="1" width="179" height="1" fill="#f4f4f4" style="mix-blend-mode:multiply"/>
<rect x="506" y="410" width="179" height="1" fill="#f2f2f2" style="mix-blend-mode:multiply"/>
<rect x="506" y="411" width="179" height="1" fill="#686868" style="mix-blend-mode:multiply"/>
<rect x="506" y="412" width="179" height="1" fill="#b0b0b0" style="mix-blend-mode:multiply"/>
<rect x="506" y="413" width="179" height="1" fill="#f4f4f4" style="mix-blend-mode:multiply"/>
<rect x="504" y="0" width="1" height="413" fill="#f8f8f8" style="mix-blend-mode:multiply"/>
<rect x="505" y="0" width="1" height="413" fill="#e0e0e0" style="mix-blend-mode:multiply"/>
<rect x="506" y="0" width="1" height="413" fill="#a0a0a0" style="mix-blend-mode:multiply"/>
<rect x="507" y="0" width="1" height="413" fill="#f4f4f4" style="mix-blend-mode:multiply"/>
<rect x="683" y="0" width="1" height="413" fill="#f0f0f0" style="mix-blend-mode:multiply"/>
<rect x="684" y="0" width="1" height="413" fill="#505050" style="mix-blend-mode:multiply"/>
<line x1="506.3" y1="411.7" x2="684.6" y2="0.26" stroke="#2a2a2a" stroke-width="1" stroke-dasharray="3.2 2.31" stroke-dashoffset="0.6"/>
<polyline points="513.1,396 513.19,393.94 513.54,393.94 513.54,391.19 513.89,391.19 513.89,388.44 514.24,388.44 514.24,385.69 514.59,385.69 514.54,382.85 514.7,382.85 514.7,379.99 514.86,379.99 514.86,377.13 515.02,377.13 515.02,374.27 515.18,374.27 515.18,371.41 515.34,371.41 515.47,368.53 516.13,368.53 516.13,365.62 516.8,365.62 516.8,362.73 517.47,362.73 517.44,359.75 517.99,359.75 517.99,356.75 518.54,356.75 518.54,353.75 519.09,353.75 519.09,350.75 519.64,350.75 519.71,347.5 520.54,347.5 520.54,344.17 521.38,344.17 521.38,340.83 522.21,340.83 522.5,339.02 524.5,339.02 524.11,336.7 524.54,336.7 524.54,334.03 524.98,334.03 524.98,331.37 525.41,331.37 525.64,328.68 526.99,328.68 526.99,325.98 528.34,325.98 528.25,322.82 529.25,322.82 529.25,319.52 530.25,319.52 530.25,316.68 531.25,316.68 531.25,313.98 532.25,313.98 532.16,311.31 532.81,311.31 532.81,308.66 533.46,308.66 533.42,306 533.88,306 533.88,303.33 534.35,303.33 534.35,300.67 534.82,300.67 534.86,297.49 535.51,297.49 535.51,294.14 536.16,294.14 536.33,291.35 537.62,291.35 537.47,288.68 538.17,288.68 538.33,285.52 539.62,285.52 539.97,283.65 542.67,283.65 542.33,281.05 543.62,281.05 543.34,278.24 543.52,278.24 543.52,275.49 543.69,275.49 543.69,272.74 543.87,272.74 543.87,269.99 544.04,269.99 544.16,267.31 544.81,267.31 544.81,264.66 545.46,264.66 545.8,261 547.8,261 547.8,259.02 549.8,259.02 549.47,256.68 550.17,256.68 550.17,253.98 550.88,253.98 551.2,250.3 553.2,250.3 552.86,247.31 553.51,247.31 553.51,244.66 554.16,244.66 554.5,241.98 556.5,241.98 556.5,238.3 558.5,238.3 558.33,234.3 559.62,234.3 559.65,230.3 561.05,230.3 560.86,227.31 561.51,227.31 561.51,224.66 562.16,224.66 562.2,220.7 563,220.7 563.27,217.88 565.18,217.88 565.35,214.3 567.95,214.3 567.55,211.31 568.55,211.31 568.55,208.66 569.55,208.66 569.55,206.01 570.55,206.01 570.55,203.36 571.55,203.36 571.65,199.7 573.05,199.7 573.35,197.65 575.95,197.65 575.8,194.3 577.8,194.3 577.39,191.31 577.74,191.31 577.74,188.66 578.09,188.66 578.67,187.02 581.38,187.02 581.35,183.7 583.95,183.7 584.15,180.68 587.55,180.68 587.53,177.98 590.83,177.98 590.67,174.3 593.38,174.3 592.95,171.31 593.95,171.31 593.95,168.66 594.95,168.66 594.86,166.01 595.51,166.01 595.51,163.36 596.16,163.36 596.6,160.15 599,160.15 598.98,156.3 601.28,156.3 601.35,153.8 603.95,153.8 603.97,151.35 606.67,151.35 606.67,147.7 609.38,147.7 609.35,143.7 611.95,143.7 611.97,140.68 614.67,140.68 614.5,137 616.5,137 616.5,133 618.5,133 618.33,129 619.62,129 619.65,125 621.05,125 621.2,121.97 623.2,121.97 623.2,119.35 625.2,119.35 625.35,116.67 627.95,116.67 627.55,114.01 628.55,114.01 628.55,111.36 629.55,111.36 629.55,108.19 630.55,108.19 630.55,104.84 631.55,104.84 631.97,103.03 634.67,103.03 634.55,100.45 636.75,100.45 636.58,97.98 638.08,97.98 638.38,94.4 641.07,94.4 640.65,91.38 641.65,91.38 641.65,88.67 642.65,88.67 642.9,85 644.9,85 644.9,81 646.9,81 646.9,77 648.9,77 648.9,74.05 650.9,74.05 651.23,71.38 654.53,71.38 654.2,67.7 656.2,67.7 656.2,63.7 658.2,63.7 658.38,59.7 661.07,59.7 660.9,55.7 662.9,55.7 662.9,51.7 664.9,51.7 664.6,48.67 665.4,48.67 665.4,45.97 666.2,45.97 666.19,43.31 666.94,43.31 666.94,40.66 667.69,40.66 667.8,37 669,37 668.98,34 670.08,34 670.08,31.33 671.17,31.33 671.17,28.67 672.27,28.67 672.5,26.01 674.5,26.01 674.5,23.36 676.5,23.36 676.25,20.68 677.25,20.68 677.25,17.98 678.25,17.98 678.17,16.1 677.47,16.1" fill="none" stroke="#ff0000" stroke-width="1.55" stroke-linejoin="round" stroke-linecap="round"/>
<polyline points="513.1,396 513.4,392.85 514.6,392.85 514.4,389.69 514.82,389.69 514.82,386.87 515.24,386.87 515.24,384.05 515.65,384.05 515.65,381.24 516.07,381.24 516.07,378.42 516.49,378.42 516.49,375.6 516.9,375.6 516.95,372.73 517.57,372.73 517.57,369.82 518.18,369.82 518.18,366.93 518.8,366.93 518.8,364.03 519.41,364.03 519.41,361.13 520.03,361.13 520.03,358.23 520.64,358.23 520.64,355.33 521.25,355.33 521.31,352.35 522.15,352.35 522.15,349.35 522.99,349.35 522.99,346.35 523.83,346.35 523.83,343.35 524.67,343.35 524.67,340.35 525.51,340.35 525.52,337.7 526.42,337.7 526.42,335.17 527.33,335.17 527.33,332.63 528.23,332.63 528.34,330.01 529.69,330.01 529.69,327.36 531.04,327.36 531.03,323.7 532.33,323.7 532.5,320.68 534.5,320.68 534.33,318.5 535.62,318.5 535.97,315.52 538.67,315.52 538.83,311.7 542.12,311.7 541.97,307.7 544.67,307.7 544.25,304.19 545.25,304.19 545.25,300.84 546.25,300.84 546.25,297.49 547.25,297.49 547.25,294.14 548.25,294.14 548.25,290.82 549.25,290.82 549.25,287.52 550.25,287.52 550.29,284.04 551.44,284.04 551.44,280.49 552.59,280.49 552.6,277.24 553.8,277.24 553.8,274.09 555,274.09 554.95,271.31 555.95,271.31 555.95,268.66 556.95,268.66 556.95,266.01 557.95,266.01 557.95,263.36 558.95,263.36 559.2,259.7 561.2,259.7 560.86,256.68 561.51,256.68 561.51,253.98 562.16,253.98 562.5,250.3 564.5,250.3 564.34,247.31 565.69,247.31 565.69,244.66 567.04,244.66 567.03,242.01 568.33,242.01 568.33,239.36 569.62,239.36 569.8,235.7 571.8,235.7 571.97,233.65 574.67,233.65 574.25,231.31 575.25,231.31 575.25,228.66 576.25,228.66 576.09,226.01 576.44,226.01 576.44,223.36 576.79,223.36 577.43,220.38 580.33,220.38 580.38,216.9 583.48,216.9 583.7,213 587.7,213 587.7,209 591.7,209 591.35,205.98 593.95,205.98 593.55,203.31 594.55,203.31 594.55,200.66 595.55,200.66 595.55,197.49 596.55,197.49 596.55,194.14 597.55,194.14 597.55,190.82 598.55,190.82 598.55,187.52 599.55,187.52 599.47,184.68 600.17,184.68 600.17,181.98 600.88,181.98 600.86,179.31 601.51,179.31 601.51,176.66 602.16,176.66 602.67,173.98 605.38,173.98 605.11,170.94 606.76,170.94 606.76,167.79 608.41,167.79 608.33,165.07 609.67,165.07 609.67,162.51 611,162.51 611,159.94 612.33,159.94 612.5,156.82 614.5,156.82 614.67,153 617.38,153 617.35,149.98 619.95,149.98 619.47,147.31 620.17,147.31 620.17,144.66 620.88,144.66 620.86,142.01 621.51,142.01 621.51,139.36 622.16,139.36 622.83,136.68 626.12,136.68 625.64,134.01 626.99,134.01 626.99,131.36 628.34,131.36 628.34,128.19 629.69,128.19 629.69,124.84 631.04,124.84 631.03,122.01 632.33,122.01 632.33,119.36 633.62,119.36 633.97,115.7 636.67,115.7 636.34,112.67 637.69,112.67 637.69,109.97 639.04,109.97 638.91,107.4 639.74,107.4 639.74,104.87 640.58,104.87 640.58,102.33 641.41,102.33 641.6,99.56 643.2,99.56 643.2,96.71 644.8,96.71 645.05,93 647.65,93 647.85,89 651.25,89 650.45,86 650.65,86 650.65,83.33 650.85,83.33 650.85,80.67 651.05,80.67 651.17,78.01 651.88,78.01 651.88,75.36 652.57,75.36 652.65,72.71 653.65,72.71 653.65,70.06 654.65,70.06 654.9,66.4 656.9,66.4 656.56,63.38 657.21,63.38 657.21,60.67 657.86,60.67 658.05,57 659.45,57 659.75,53 662.35,53 662.04,49.49 663.39,49.49 663.39,46.14 664.74,46.14 664.66,43.31 665.71,43.31 665.71,40.66 666.76,40.66 666.73,37.67 667.67,37.67 667.67,34.57 668.6,34.57 668.6,31.47 669.53,31.47 669.72,28.94 671.42,28.94 671.42,26.59 673.12,26.59 673.11,24.24 674.76,24.24 674.76,21.89 676.41,21.89 676.16,19.2 676.81,19.2 676.81,16.4 677.46,16.4" fill="none" stroke="#00ff00" stroke-width="1.55" stroke-linejoin="round" stroke-linecap="round"/>
<polyline points="513.1,396 513.21,393.6 513.65,393.6 513.65,390.4 514.09,390.4 514.09,387.2 514.53,387.2 514.53,384 514.97,384 514.97,380.8 515.41,380.8 515.42,377.51 515.92,377.51 515.92,374.18 516.42,374.18 516.42,370.86 516.92,370.86 516.92,367.53 517.42,367.53 517.42,364.19 517.92,364.19 517.92,360.84 518.42,360.84 518.42,357.49 518.92,357.49 518.92,354.14 519.42,354.14 519.45,351.25 520.05,351.25 520.05,348.5 520.65,348.5 520.65,345.77 521.25,345.77 521.25,343.03 521.85,343.03 521.85,340.29 522.45,340.29 522.44,337.38 523.01,337.38 523.01,334.41 523.57,334.41 523.57,331.44 524.14,331.44 524.16,328.68 524.81,328.68 524.81,325.98 525.46,325.98 525.64,323.31 526.99,323.31 526.99,320.66 528.34,320.66 528.67,317 531.38,317 530.95,314.01 531.95,314.01 531.95,311.36 532.95,311.36 532.86,308.19 533.51,308.19 533.51,304.84 534.16,304.84 534.16,301.49 534.81,301.49 534.81,298.14 535.46,298.14 535.47,294.82 536.17,294.82 536.17,291.52 536.88,291.52 536.86,288.19 537.51,288.19 537.51,284.84 538.16,284.84 538.33,280.7 539.62,280.7 539.39,277.24 539.74,277.24 539.74,274.09 540.09,274.09 540.16,270.82 540.81,270.82 540.81,267.52 541.46,267.52 541.39,264.19 541.74,264.19 541.74,260.84 542.09,260.84 542.17,257.52 542.88,257.52 542.86,254.94 543.51,254.94 543.51,252.59 544.16,252.59 544.16,250.01 544.81,250.01 544.81,247.36 545.46,247.36 545.65,243.7 547.05,243.7 546.86,240.45 547.51,240.45 547.51,237.45 548.16,237.45 548.5,235.2 550.5,235.2 550.5,231.7 552.5,231.7 552.09,228.19 552.44,228.19 552.44,224.84 552.79,224.84 553.3,219.6 553.42,217.38 553.88,217.38 553.88,214.41 554.35,214.41 554.35,211.44 554.82,211.44 555.3,205.3 555.8,203.35 557.8,203.35 558.3,200.68 562.3,200.68 561.97,197 564.67,197 564.67,193 567.38,193 567.35,189.98 569.95,189.98 569.97,186.3 572.67,186.3 572.67,182.3 575.38,182.3 575.2,178.3 577.2,178.3 577.2,175.35 579.2,175.35 579.35,173.2 581.95,173.2 581.97,171.2 584.67,171.2 584.17,167.7 584.88,167.7 585.03,163.7 586.33,163.7 586.5,160.15 588.5,160.15 588.25,157.05 589.25,157.05 589.25,154.05 590.25,154.05 590.5,150.3 592.5,150.3 592.5,146.3 594.5,146.3 594.67,143.35 597.38,143.35 597.35,140.68 599.95,140.68 599.65,137 601.05,137 601.2,133 603.2,133 603.2,129 605.2,129 605.35,127.03 607.95,127.03 607.97,124.67 610.67,124.67 610.67,121.97 613.38,121.97 613.35,118.3 615.95,118.3 615.8,114.3 617.8,114.3 617.97,111.35 620.67,111.35 620.09,108.67 620.44,108.67 620.44,105.97 620.79,105.97 621.2,103.35 623.2,103.35 623.48,100.45 626.57,100.45 626.45,96.92 629.05,96.92 628.65,94.01 629.65,94.01 629.65,91.36 630.65,91.36 630.56,88.71 631.21,88.71 631.21,86.06 631.86,86.06 632.2,82.4 634.2,82.4 634.38,78.85 637.07,78.85 637.4,76.5 641.4,76.5 641.05,73 643.65,73 643.5,69 645.5,69 645.5,65 647.5,65 647.67,63.03 650.38,63.03 650.7,60.67 654.7,60.67 654.38,57.97 657.07,57.97 657.08,55.35 659.78,55.35 659.75,52.67 662.35,52.67 662.2,49 664.2,49 663.86,46.12 664.51,46.12 664.51,43.62 665.16,43.62 665.25,39.78 666.25,39.78 666.33,35.7 667.62,35.7 667.8,31.7 669.8,31.7 669.97,28.68 672.67,28.68 672.67,25.98 675.38,25.98 675.03,22.3 676.33,22.3 676.16,19.2 676.81,19.2 676.81,16.4 677.46,16.4" fill="none" stroke="#000000" stroke-width="1.55" stroke-linejoin="round" stroke-linecap="round"/>
<polyline points="513.1,396 514.4,393.3 516.7,380 519.3,366.7 522,353.3 524.4,340 526.7,328 528.7,317.3 530.7,306.7 532.7,297.3 536,288 538.7,280 542.7,265.3 546.7,254.7 550.7,244 555.3,232 559.7,220 566.7,198.7 571.3,186.7 575.3,176 580.4,159.7 583,152.4 587,145 639.9,42.3 645.3,38.7 652,33.3 658.7,26.7 664.7,21.3 668.7,17.3 673.3,16.3 677.3,15.7" fill="none" stroke="#0000ff" stroke-width="1.55" stroke-linejoin="round" stroke-linecap="round"/>
<polyline points="513.1,396 513.3,393.3 513.6,380 514,366.7 514.7,353.3 515.7,340 516.7,333.3 518,325.3 519.3,318 520.7,317.3 521.3,310.7 522.7,298.7 524.7,288 525.7,280 526.7,270.7 528,264 530,254.7 532,246.7 533.3,241.3 535.3,237.3 537.3,232 539.3,226.7 542.3,219.6 542.7,206.7 544,194.7 545.3,192 547.3,188 548.7,182.7 550.7,176 554,172 557.3,166.7 560.7,164 561.6,158 562.7,153.3 564.7,145.3 567.3,140 571.3,134.7 575.3,130.7 578.7,124 581.3,117.3 584.7,112 588.7,105.3 592,100 595,89.4 597.7,82.7 600.3,76 603,71.4 606.3,69.4 609.7,65.4 613.7,58.7 618.4,53.3 622.4,49.3 627,48 631,45.3 635.8,39.7 642.7,36 649.3,32 656,27.3 661.3,24 668,21.3 673.3,18.7 677.3,15.7" fill="none" stroke="#ffff00" stroke-width="1.55" stroke-linejoin="round" stroke-linecap="round"/>
<line x1="501.2" y1="396.46" x2="506.3" y2="396.46" stroke="#555" stroke-width="0.8"/>
<text x="0" y="0" font-size="9.5" text-anchor="middle" transform="translate(495.7 396.46) rotate(-90) scale(0.96 1)">0.0</text>
<line x1="501.2" y1="320.27" x2="506.3" y2="320.27" stroke="#555" stroke-width="0.8"/>
<text x="0" y="0" font-size="9.5" text-anchor="middle" transform="translate(495.7 320.27) rotate(-90) scale(0.96 1)">0.2</text>
<line x1="501.2" y1="244.08" x2="506.3" y2="244.08" stroke="#555" stroke-width="0.8"/>
<text x="0" y="0" font-size="9.5" text-anchor="middle" transform="translate(495.7 244.08) rotate(-90) scale(0.96 1)">0.4</text>
<line x1="501.2" y1="167.88" x2="506.3" y2="167.88" stroke="#555" stroke-width="0.8"/>
<text x="0" y="0" font-size="9.5" text-anchor="middle" transform="translate(495.7 167.88) rotate(-90) scale(0.96 1)">0.6</text>
<line x1="501.2" y1="91.69" x2="506.3" y2="91.69" stroke="#555" stroke-width="0.8"/>
<text x="0" y="0" font-size="9.5" text-anchor="middle" transform="translate(495.7 91.69) rotate(-90) scale(0.96 1)">0.8</text>
<line x1="501.2" y1="15.5" x2="506.3" y2="15.5" stroke="#555" stroke-width="0.8"/>
<text x="0" y="0" font-size="9.5" text-anchor="middle" transform="translate(495.7 15.5) rotate(-90) scale(0.96 1)">1.0</text>
<line x1="512.9" y1="411.7" x2="512.9" y2="416.8" stroke="#555" stroke-width="0.8"/>
<text x="0" y="0" font-size="9.5" text-anchor="middle" transform="translate(512.9 429.1) scale(0.96 1)">0.0</text>
<line x1="545.92" y1="411.7" x2="545.92" y2="416.8" stroke="#555" stroke-width="0.8"/>
<text x="0" y="0" font-size="9.5" text-anchor="middle" transform="translate(545.92 429.1) scale(0.96 1)">0.2</text>
<line x1="578.94" y1="411.7" x2="578.94" y2="416.8" stroke="#555" stroke-width="0.8"/>
<text x="0" y="0" font-size="9.5" text-anchor="middle" transform="translate(578.94 429.1) scale(0.96 1)">0.4</text>
<line x1="611.96" y1="411.7" x2="611.96" y2="416.8" stroke="#555" stroke-width="0.8"/>
<text x="0" y="0" font-size="9.5" text-anchor="middle" transform="translate(611.96 429.1) scale(0.96 1)">0.6</text>
<line x1="644.98" y1="411.7" x2="644.98" y2="416.8" stroke="#555" stroke-width="0.8"/>
<text x="0" y="0" font-size="9.5" text-anchor="middle" transform="translate(644.98 429.1) scale(0.96 1)">0.8</text>
<line x1="678" y1="411.7" x2="678" y2="416.8" stroke="#555" stroke-width="0.8"/>
<text x="0" y="0" font-size="9.5" text-anchor="middle" transform="translate(678 429.1) scale(0.96 1)">1.0</text>
<text x="595.45" y="447" font-size="11.6" text-anchor="middle">1-Specificity</text>
<text x="475.8" y="205.3" font-size="11.7" text-anchor="middle" transform="rotate(-90 475.8 205.3)">Sensitivity</text>
<line x1="569.95" y1="350.55" x2="587.45" y2="350.55" stroke="#ff0000" stroke-width="1.35"/>
<text x="595.85" y="353.85" font-size="9.3">Glucose: 0.58</text>
<line x1="569.95" y1="361.59" x2="587.45" y2="361.59" stroke="#00ff00" stroke-width="1.35"/>
<text x="595.85" y="364.89" font-size="9.3">Potassium: 0.53</text>
<line x1="569.95" y1="372.63" x2="587.45" y2="372.63" stroke="#000000" stroke-width="1.35"/>
<text x="595.85" y="375.93" font-size="9.3">GPR:0.62</text>
<line x1="569.95" y1="383.67" x2="587.45" y2="383.67" stroke="#0000ff" stroke-width="1.35"/>
<text x="595.85" y="386.97" font-size="9.3">GCS: 0.65</text>
<line x1="569.95" y1="394.71" x2="587.45" y2="394.71" stroke="#ffff00" stroke-width="1.35"/>
<text x="595.85" y="398.01" font-size="9.3">GPR + GCS: 0.73</text>
<text x="0" y="0" font-size="12" font-weight="bold" transform="translate(473.4 17.2) scale(0.9 1)" style="font-family:'Liberation Serif',serif">C</text>
</svg></body></html>
